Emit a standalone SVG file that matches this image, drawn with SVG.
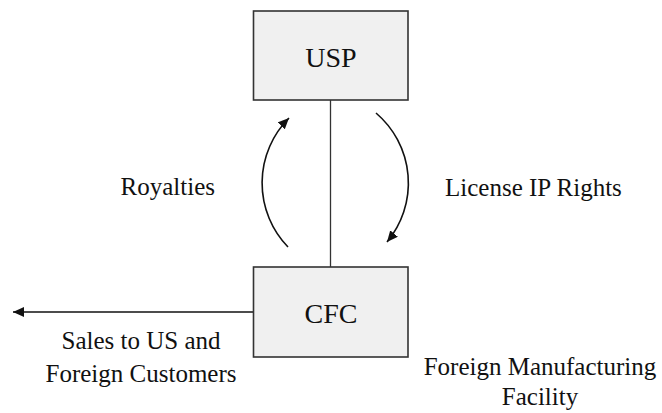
<svg xmlns="http://www.w3.org/2000/svg" width="662" height="413" viewBox="0 0 662 413">
<style>
.box{fill:#f0f0f0;stroke:#333;stroke-width:1.6}
.lbl{font-family:"Liberation Serif","Times New Roman",serif;fill:#111}
.big{font-size:28px;text-anchor:middle}
.sm{font-size:25px}
.conn{fill:none;stroke:#111;stroke-width:1.6}
</style>
<defs>
<marker id="ah" markerWidth="12" markerHeight="10" refX="11" refY="5" orient="auto" markerUnits="userSpaceOnUse">
<path d="M0,0 L11,5 L0,10 Z" fill="#111"/>
</marker>
</defs>
<rect width="662" height="413" fill="#fff"/>
<g id="connectors">
<line x1="330.5" y1="100" x2="330.5" y2="267" stroke="#333" stroke-width="1.3"/>
<path class="conn" d="M288,247 A92,92 0 0 1 289,118" marker-end="url(#ah)"/>
<path class="conn" d="M376,113 A92,92 0 0 1 387,242" marker-end="url(#ah)"/>
<line class="conn" x1="253" y1="312" x2="13" y2="312" marker-end="url(#ah)"/>
</g>
<g id="usp">
<rect class="box" x="253.5" y="11" width="154.5" height="89"/>
<text class="lbl big" x="331" y="67">USP</text>
</g>
<g id="cfc">
<rect class="box" x="253.5" y="267" width="154.5" height="90"/>
<text class="lbl big" x="331" y="323">CFC</text>
</g>
<g id="labels">
<text class="lbl sm" x="215" y="195" text-anchor="end">Royalties</text>
<text class="lbl sm" x="445" y="196">License IP Rights</text>
<text class="lbl sm" x="141" y="349" text-anchor="middle">Sales to US and</text>
<text class="lbl sm" x="141" y="382" text-anchor="middle">Foreign Customers</text>
<text class="lbl sm" x="540" y="375" text-anchor="middle">Foreign Manufacturing</text>
<text class="lbl sm" x="540" y="405" text-anchor="middle">Facility</text>
</g>
</svg>
